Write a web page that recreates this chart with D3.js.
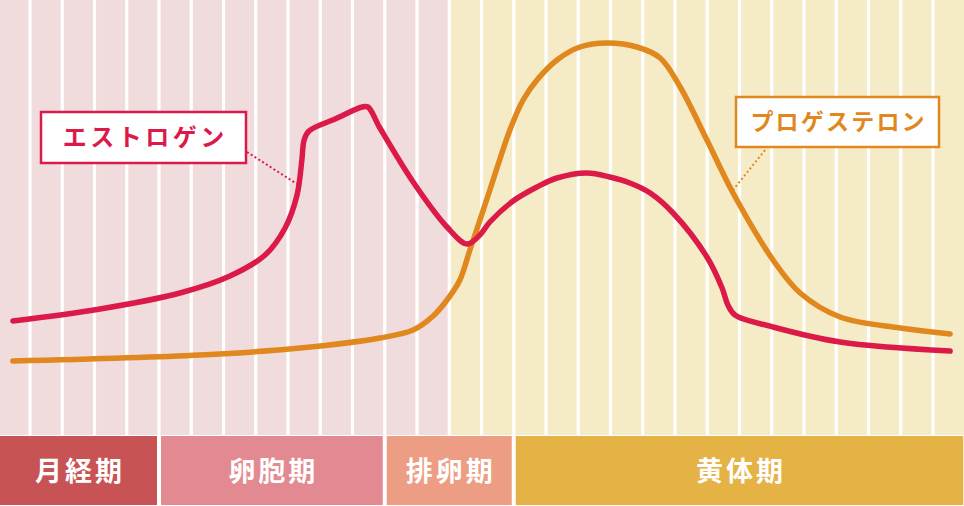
<!DOCTYPE html>
<html>
<head>
<meta charset="utf-8">
<script src="https://cdn.jsdelivr.net/npm/d3@7"></script>
<style>
  html, body { margin: 0; padding: 0; background: #fff; }
  svg { display: block; }
  text { font-family: "Noto Sans CJK JP", "Noto Sans", sans-serif; font-weight: 700; }
</style>
</head>
<body>
<div id="chart"></div>
<script>
'use strict';

// cycle days, one column per day
var days = d3.range(1, 30);

// phases [name, start day, end day]
var phaseNames = ["月経期", "卵胞期", "排卵期", "黄体期"];
var phaseStart = [0, 5, 12, 16];
var phaseEnd = [5, 12, 16, 30];

// background zones (follicular side / luteal side)
var zoneStart = [0, 14];
var zoneEnd = [14, 30];

// estrogen level by day
var estrogenDay = [0.47, 3.17, 5.65, 7.2, 8.29, 8.91, 9.28, 9.43, 9.5, 9.65, 10.46, 11.3, 11.48, 11.85, 12.88, 13.93, 14.55, 14.95, 15.26, 15.98, 16.72, 17.34, 18.27, 18.98, 19.6, 20.23, 20.94, 21.99, 22.46, 22.64, 22.86, 24.04, 26.12, 29.53];
var estrogenLevel = [19.75, 22.75, 26.75, 31, 36.25, 43, 51.25, 60, 65, 67.25, 70.25, 73.25, 73.25, 68, 54.5, 43.25, 39, 41.25, 44.5, 49.75, 53.25, 55.5, 56.75, 55.75, 54.25, 51.75, 46.75, 35.75, 28, 23.75, 21.25, 18.25, 14.5, 12.25];

// progesterone level by day
var progesteroneDay = [0.47, 6.27, 9.37, 11.85, 12.88, 13.5, 13.93, 14.33, 14.64, 15.26, 15.88, 16.29, 16.72, 17.34, 18.05, 18.89, 19.82, 20.54, 21.16, 21.99, 22.8, 24.04, 24.88, 26.12, 27.98, 29.53];
var progesteroneLevel = [9.75, 11.25, 13, 15.5, 17.5, 21, 25, 30, 37.5, 52.5, 67.5, 75, 80, 85, 88.25, 89.25, 88.25, 85.5, 78.25, 65, 51.75, 35, 26.75, 20.75, 18, 16.5];

// label texts and where their pointers touch the curve [day, level]
var estrogenLabel = "エストロゲン";
var progesteroneLabel = "プロゲステロン";
var estrogenPointer = [9.28, 54];
var progesteronePointer = [22.8, 52.5];

var W = 964, H = 506, plotBottom = 435, barTop = 436;
var zoneColors = ["#f0dcdd", "#f5ebc6"];
var phaseColors = ["#c85355", "#e38991", "#ec9d83", "#e5b246"];
var red = "#dc1a4a", orange = "#e0871e";

var svg = d3.select("#chart").append("svg")
  .attr("width", W)
  .attr("height", H);

var x = d3.scaleLinear().domain([0, 30]).range([-2.25, 965.25]);
var y = d3.scaleLinear().domain([0, 100]).range([400, 0]);

// background zones
svg.selectAll("rect.zone")
  .data(zoneStart)
  .enter().append("rect")
  .attr("class", "zone")
  .attr("x", function(d) { return Math.max(0, x(d)); })
  .attr("y", 0)
  .attr("width", function(d, i) { return Math.min(W, x(zoneEnd[i])) - Math.max(0, x(d)); })
  .attr("height", plotBottom)
  .attr("fill", function(d, i) { return zoneColors[i]; });

// white day separators
svg.selectAll("line.day")
  .data(days)
  .enter().append("line")
  .attr("class", "day")
  .attr("x1", function(d) { return x(d); })
  .attr("x2", function(d) { return x(d); })
  .attr("y1", 0)
  .attr("y2", plotBottom)
  .attr("stroke", "#fff")
  .attr("stroke-width", 3.2);

// hormone curves
var line = d3.line()
  .x(function(d) { return x(d[0]); })
  .y(function(d) { return y(d[1]); })
  .curve(d3.curveCatmullRom.alpha(0.5));

svg.append("path")
  .datum(progesteroneDay.map(function(d, i) { return [d, progesteroneLevel[i]]; }))
  .attr("fill", "none")
  .attr("stroke", orange)
  .attr("stroke-width", 5.5)
  .attr("stroke-linecap", "round")
  .attr("stroke-linejoin", "round")
  .attr("d", line);

svg.append("path")
  .datum(estrogenDay.map(function(d, i) { return [d, estrogenLevel[i]]; }))
  .attr("fill", "none")
  .attr("stroke", red)
  .attr("stroke-width", 5.5)
  .attr("stroke-linecap", "round")
  .attr("stroke-linejoin", "round")
  .attr("d", line);

// labels with dotted pointers
function label(text, color, box, from, to, size, spacing) {
  svg.append("line")
    .attr("x1", from[0]).attr("y1", from[1])
    .attr("x2", x(to[0])).attr("y2", y(to[1]))
    .attr("stroke", color)
    .attr("stroke-width", 2)
    .attr("stroke-dasharray", "2,2.5");
  svg.append("rect")
    .attr("x", box[0]).attr("y", box[1])
    .attr("width", box[2]).attr("height", box[3])
    .attr("fill", "#fff")
    .attr("stroke", color)
    .attr("stroke-width", 2.5);
  svg.append("text")
    .attr("x", box[0] + box[2] / 2 + spacing / 2)
    .attr("y", box[1] + box[3] / 2)
    .attr("dy", "0.36em")
    .attr("text-anchor", "middle")
    .attr("fill", color)
    .attr("font-size", size)
    .attr("letter-spacing", spacing)
    .text(text);
}

label(estrogenLabel, red, [41, 112, 205, 51], [247, 152], estrogenPointer, 24, 3.5);
label(progesteroneLabel, orange, [736, 97, 203, 50], [765, 150], progesteronePointer, 23, 2.2);

// phase bar
var phases = svg.selectAll("g.phase")
  .data(phaseNames)
  .enter().append("g")
  .attr("class", "phase");

phases.append("rect")
  .attr("x", function(d, i) { return Math.max(0, x(phaseStart[i]) + 2); })
  .attr("y", barTop)
  .attr("width", function(d, i) { return x(phaseEnd[i]) - 2 - Math.max(0, x(phaseStart[i]) + 2); })
  .attr("height", H - barTop - 1)
  .attr("fill", function(d, i) { return phaseColors[i]; });

phases.append("text")
  .attr("x", function(d, i) { return (Math.max(0, x(phaseStart[i]) + 2) + x(phaseEnd[i]) - 2) / 2 + 1.5; })
  .attr("y", (barTop + H) / 2)
  .attr("dy", "0.36em")
  .attr("text-anchor", "middle")
  .attr("fill", "#fff")
  .attr("font-size", 27)
  .attr("letter-spacing", 3)
  .text(function(d) { return d; });
</script>
</body>
</html>
